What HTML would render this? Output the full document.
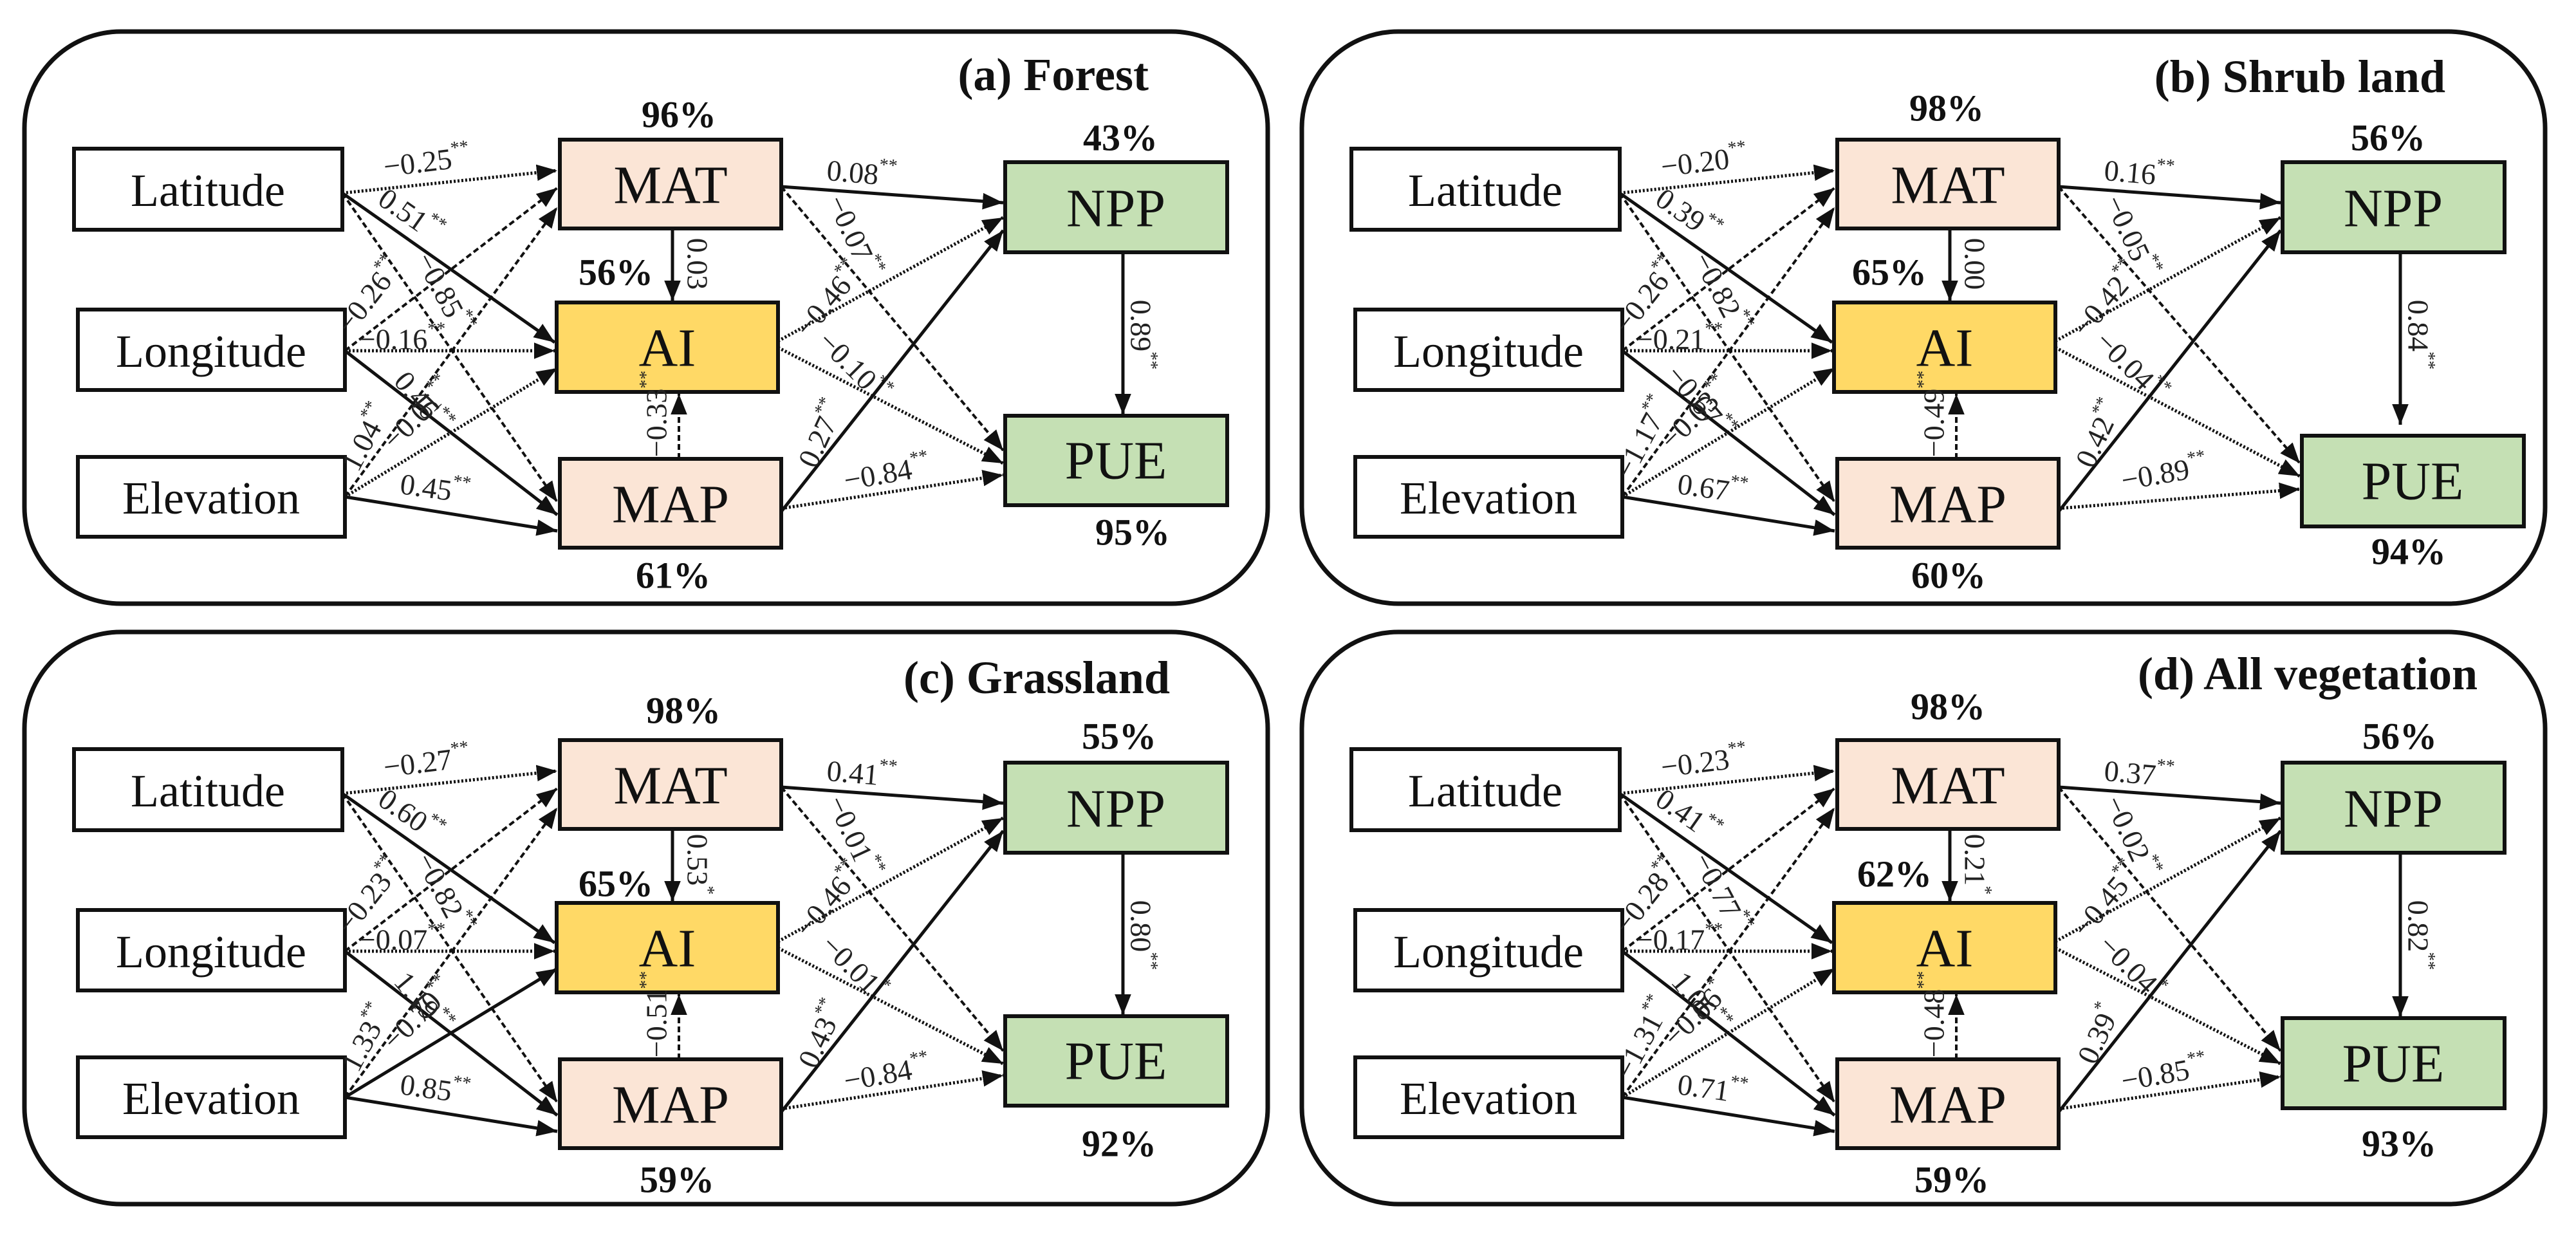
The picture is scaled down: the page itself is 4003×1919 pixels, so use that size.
<!DOCTYPE html>
<html><head><meta charset="utf-8"><style>
html,body{margin:0;padding:0;background:#fff;}
svg{display:block;font-family:"Liberation Serif","DejaVu Serif",serif;}
svg text{font-family:"Liberation Serif","DejaVu Serif",serif;}
.nt{font-size:72px;text-anchor:middle;dominant-baseline:central;fill:#111;}
.big{font-size:84px;}
.pc{font-weight:bold;font-size:58px;text-anchor:middle;dominant-baseline:central;fill:#111;}
.tt{font-weight:bold;font-size:72px;text-anchor:end;fill:#111;}
.lb{font-size:46px;text-anchor:middle;dominant-baseline:central;fill:#222;}
.lb tspan{font-size:28px;}
.box{stroke:#111;stroke-width:6;}
.so{stroke:#111;stroke-width:5;fill:none;marker-end:url(#ah);}
.dt{stroke:#111;stroke-width:5;stroke-dasharray:3 3;fill:none;marker-end:url(#ah);}
.ds{stroke:#111;stroke-width:4;stroke-dasharray:9 5;fill:none;marker-end:url(#ah);}
</style></head><body>
<svg width="4003" height="1919" viewBox="0 0 4003 1919" xmlns="http://www.w3.org/2000/svg" font-family="Liberation Serif, DejaVu Serif, serif">
<defs>
<marker id="ah" viewBox="0 0 10 8" refX="10" refY="4" markerWidth="32" markerHeight="26" markerUnits="userSpaceOnUse" orient="auto"><path d="M0,0 L10,4 L0,8 z" fill="#111"/></marker>
<g id="base">
<rect x="38" y="49" width="1932" height="889" rx="150" ry="150" fill="none" stroke="#111" stroke-width="7"/>
<rect class="box" x="115" y="231" width="417" height="126" fill="#fff"/>
<rect class="box" x="121" y="481" width="415" height="125" fill="#fff"/>
<rect class="box" x="121" y="710" width="415" height="124" fill="#fff"/>
<rect class="box" x="870" y="217" width="344" height="138" fill="#FBE5D6"/>
<rect class="box" x="865" y="470" width="344" height="139" fill="#FFD966"/>
<rect class="box" x="870" y="713" width="344" height="138" fill="#FBE5D6"/>
<rect class="box" x="1562" y="252" width="345" height="140" fill="#C5E0B4"/>
<text class="nt" x="323" y="296">Latitude</text>
<text class="nt" x="328" y="546">Longitude</text>
<text class="nt" x="328" y="774">Elevation</text>
<text class="nt big" x="1042" y="288">MAT</text>
<text class="nt big" x="1037" y="541">AI</text>
<text class="nt big" x="1042" y="784">MAP</text>
<text class="nt big" x="1734" y="324">NPP</text>
<line class="dt" x1="532" y1="300" x2="866" y2="265"/>
<line class="so" x1="532" y1="300" x2="862" y2="532"/>
<line class="ds" x1="532" y1="300" x2="866" y2="780"/>
<line class="ds" x1="536" y1="545" x2="866" y2="292"/>
<line class="dt" x1="536" y1="545" x2="862" y2="545"/>
<line class="so" x1="536" y1="545" x2="866" y2="800"/>
<line class="ds" x1="536" y1="772" x2="866" y2="322"/>
<line class="so" x1="536" y1="772" x2="866" y2="825"/>
<line class="so" x1="1045" y1="355" x2="1045" y2="468"/>
<line class="ds" x1="1055" y1="713" x2="1055" y2="612"/>
<line class="so" x1="1214" y1="290" x2="1559" y2="315"/>
<line class="dt" x1="1209" y1="530" x2="1559" y2="338"/>
<line class="so" x1="1214" y1="795" x2="1559" y2="358"/>
</g>
<g id="pue0">
<rect class="box" x="1562" y="646" width="345" height="139" fill="#C5E0B4"/>
<text class="nt big" x="1734" y="716">PUE</text>
<line class="ds" x1="1214" y1="290" x2="1559" y2="700"/>
<line class="dt" x1="1209" y1="540" x2="1559" y2="720"/>
<line class="dt" x1="1214" y1="790" x2="1559" y2="738"/>
<line class="so" x1="1745" y1="392" x2="1745" y2="644"/>
</g>
</defs>

<!-- (a) -->
<g>
<use href="#base"/><use href="#pue0"/>
<line class="dt" x1="536" y1="772" x2="866" y2="572"/>
<text class="tt" x="1785" y="140">(a) Forest</text>
<text class="pc" x="1055" y="178">96%</text><text class="pc" x="1741" y="214">43%</text>
<text class="pc" x="957" y="423">56%</text><text class="pc" x="1046" y="894">61%</text><text class="pc" x="1760" y="827">95%</text>
<text class="lb" x="663" y="251" transform="rotate(-7 663 251)">−0.25<tspan dy="-16">**</tspan></text>
<text class="lb" x="638" y="334" transform="rotate(35 638 334)">0.51<tspan dy="-16">**</tspan></text>
<text class="lb" x="690" y="455" transform="rotate(62 690 455)">−0.85<tspan dy="-16">**</tspan></text>
<text class="lb" x="574" y="459" transform="rotate(-52 574 459)">−0.26<tspan dy="-16">**</tspan></text>
<text class="lb" x="625" y="527">−0.16<tspan dy="-16">**</tspan></text>
<text class="lb" x="657" y="625" transform="rotate(50 657 625)">0.46<tspan dy="-16">**</tspan></text>
<text class="lb" x="568" y="680" transform="rotate(-62 568 680)">1.04<tspan dy="-16">**</tspan></text>
<text class="lb" x="650" y="643" transform="rotate(-45 650 643)">−0.01<tspan dy="-16">**</tspan></text>
<text class="lb" x="676" y="759" transform="rotate(8 676 759)">0.45<tspan dy="-16">**</tspan></text>
<text class="lb" x="1084" y="410" transform="rotate(90 1084 410)">0.03</text>
<text class="lb" x="1020" y="643" transform="rotate(-90 1020 643)">−0.33<tspan dy="-16">**</tspan></text>
<text class="lb" x="1339" y="269" transform="rotate(5 1339 269)">0.08<tspan dy="-16">**</tspan></text>
<text class="lb" x="1327" y="367" transform="rotate(65 1327 367)">−0.07<tspan dy="-16">**</tspan></text>
<text class="lb" x="1288" y="465" transform="rotate(-50 1288 465)">−0.46<tspan dy="-16">**</tspan></text>
<text class="lb" x="1327" y="570" transform="rotate(45 1327 570)">−0.10<tspan dy="-16">**</tspan></text>
<text class="lb" x="1276" y="674" transform="rotate(-65 1276 674)">0.27<tspan dy="-16">**</tspan></text>
<text class="lb" x="1378" y="735" transform="rotate(-10 1378 735)">−0.84<tspan dy="-16">**</tspan></text>
<text class="lb" x="1773" y="520" transform="rotate(90 1773 520)">0.89<tspan dy="-16">**</tspan></text>
</g>

<!-- (b) -->
<g transform="translate(1985,0)">
<use href="#base"/>
<line class="dt" x1="536" y1="772" x2="866" y2="572"/>
<rect class="box" x="1592" y="677" width="345" height="141" fill="#C5E0B4"/>
<text class="nt big" x="1764" y="748">PUE</text>
<line class="ds" x1="1214" y1="290" x2="1589" y2="720"/>
<line class="dt" x1="1209" y1="540" x2="1589" y2="740"/>
<line class="dt" x1="1214" y1="790" x2="1589" y2="760"/>
<line class="so" x1="1745" y1="392" x2="1745" y2="660"/>
<text class="tt" x="1815" y="143">(b) Shrub land</text>
<text class="pc" x="1040" y="168">98%</text><text class="pc" x="1726" y="214">56%</text>
<text class="pc" x="951" y="423">65%</text><text class="pc" x="1043" y="894">60%</text><text class="pc" x="1758" y="857">94%</text>
<text class="lb" x="663" y="251" transform="rotate(-7 663 251)">−0.20<tspan dy="-16">**</tspan></text>
<text class="lb" x="638" y="334" transform="rotate(35 638 334)">0.39<tspan dy="-16">**</tspan></text>
<text class="lb" x="690" y="455" transform="rotate(62 690 455)">−0.82<tspan dy="-16">**</tspan></text>
<text class="lb" x="574" y="459" transform="rotate(-52 574 459)">−0.26<tspan dy="-16">**</tspan></text>
<text class="lb" x="625" y="527">−0.21<tspan dy="-16">**</tspan></text>
<text class="lb" x="657" y="625" transform="rotate(50 657 625)">−0.67<tspan dy="-16">**</tspan></text>
<text class="lb" x="568" y="680" transform="rotate(-62 568 680)">−1.17<tspan dy="-16">**</tspan></text>
<text class="lb" x="650" y="643" transform="rotate(-45 650 643)">−0.03<tspan dy="-16">**</tspan></text>
<text class="lb" x="676" y="759" transform="rotate(8 676 759)">0.67<tspan dy="-16">**</tspan></text>
<text class="lb" x="1084" y="410" transform="rotate(90 1084 410)">0.00</text>
<text class="lb" x="1020" y="643" transform="rotate(-90 1020 643)">−0.49<tspan dy="-16">**</tspan></text>
<text class="lb" x="1339" y="269" transform="rotate(5 1339 269)">0.16<tspan dy="-16">**</tspan></text>
<text class="lb" x="1327" y="367" transform="rotate(65 1327 367)">−0.05<tspan dy="-16">**</tspan></text>
<text class="lb" x="1288" y="465" transform="rotate(-50 1288 465)">−0.42<tspan dy="-16">**</tspan></text>
<text class="lb" x="1327" y="570" transform="rotate(45 1327 570)">−0.04<tspan dy="-16">**</tspan></text>
<text class="lb" x="1276" y="674" transform="rotate(-65 1276 674)">0.42<tspan dy="-16">**</tspan></text>
<text class="lb" x="1378" y="735" transform="rotate(-10 1378 735)">−0.89<tspan dy="-16">**</tspan></text>
<text class="lb" x="1773" y="520" transform="rotate(90 1773 520)">0.84<tspan dy="-16">**</tspan></text>
</g>

<!-- (c) -->
<g transform="translate(0,933)">
<use href="#base"/><use href="#pue0"/>
<line class="so" x1="536" y1="772" x2="866" y2="572"/>
<text class="tt" x="1818" y="144">(c) Grassland</text>
<text class="pc" x="1062" y="171">98%</text><text class="pc" x="1739" y="211">55%</text>
<text class="pc" x="957" y="440">65%</text><text class="pc" x="1052" y="900">59%</text><text class="pc" x="1739" y="844">92%</text>
<text class="lb" x="663" y="251" transform="rotate(-7 663 251)">−0.27<tspan dy="-16">**</tspan></text>
<text class="lb" x="638" y="334" transform="rotate(35 638 334)">0.60<tspan dy="-16">**</tspan></text>
<text class="lb" x="690" y="455" transform="rotate(62 690 455)">−0.82<tspan dy="-16">**</tspan></text>
<text class="lb" x="574" y="459" transform="rotate(-52 574 459)">−0.23<tspan dy="-16">**</tspan></text>
<text class="lb" x="625" y="527">−0.07<tspan dy="-16">**</tspan></text>
<text class="lb" x="657" y="625" transform="rotate(50 657 625)">1.19<tspan dy="-16">**</tspan></text>
<text class="lb" x="568" y="680" transform="rotate(-62 568 680)">1.33<tspan dy="-16">**</tspan></text>
<text class="lb" x="650" y="643" transform="rotate(-45 650 643)">−0.70<tspan dy="-16">**</tspan></text>
<text class="lb" x="676" y="759" transform="rotate(8 676 759)">0.85<tspan dy="-16">**</tspan></text>
<text class="lb" x="1084" y="410" transform="rotate(90 1084 410)">0.53<tspan dy="-16">*</tspan></text>
<text class="lb" x="1020" y="643" transform="rotate(-90 1020 643)">−0.51<tspan dy="-16">**</tspan></text>
<text class="lb" x="1339" y="269" transform="rotate(5 1339 269)">0.41<tspan dy="-16">**</tspan></text>
<text class="lb" x="1327" y="367" transform="rotate(65 1327 367)">−0.01<tspan dy="-16">**</tspan></text>
<text class="lb" x="1288" y="465" transform="rotate(-50 1288 465)">−0.46<tspan dy="-16">**</tspan></text>
<text class="lb" x="1327" y="570" transform="rotate(45 1327 570)">−0.01<tspan dy="-16">*</tspan></text>
<text class="lb" x="1276" y="674" transform="rotate(-65 1276 674)">0.43<tspan dy="-16">**</tspan></text>
<text class="lb" x="1378" y="735" transform="rotate(-10 1378 735)">−0.84<tspan dy="-16">**</tspan></text>
<text class="lb" x="1773" y="520" transform="rotate(90 1773 520)">0.80<tspan dy="-16">**</tspan></text>
</g>

<!-- (d) -->
<g transform="translate(1985,933)">
<use href="#base"/>
<line class="dt" x1="536" y1="772" x2="866" y2="572"/>
<rect class="box" x="1562" y="649" width="345" height="140" fill="#C5E0B4"/>
<text class="nt big" x="1734" y="720">PUE</text>
<line class="ds" x1="1214" y1="290" x2="1559" y2="700"/>
<line class="dt" x1="1209" y1="540" x2="1559" y2="720"/>
<line class="dt" x1="1214" y1="790" x2="1559" y2="740"/>
<line class="so" x1="1745" y1="392" x2="1745" y2="647"/>
<text class="tt" x="1865" y="138">(d) All vegetation</text>
<text class="pc" x="1042" y="165">98%</text><text class="pc" x="1744" y="211">56%</text>
<text class="pc" x="959" y="425">62%</text><text class="pc" x="1048" y="900">59%</text><text class="pc" x="1743" y="844">93%</text>
<text class="lb" x="663" y="251" transform="rotate(-7 663 251)">−0.23<tspan dy="-16">**</tspan></text>
<text class="lb" x="638" y="334" transform="rotate(35 638 334)">0.41<tspan dy="-16">**</tspan></text>
<text class="lb" x="690" y="455" transform="rotate(62 690 455)">−0.77<tspan dy="-16">**</tspan></text>
<text class="lb" x="574" y="459" transform="rotate(-52 574 459)">−0.28<tspan dy="-16">**</tspan></text>
<text class="lb" x="625" y="527">−0.17<tspan dy="-16">**</tspan></text>
<text class="lb" x="657" y="625" transform="rotate(50 657 625)">1.06<tspan dy="-16">**</tspan></text>
<text class="lb" x="568" y="680" transform="rotate(-62 568 680)">−1.31<tspan dy="-16">**</tspan></text>
<text class="lb" x="650" y="643" transform="rotate(-45 650 643)">−0.06<tspan dy="-16">*</tspan></text>
<text class="lb" x="676" y="759" transform="rotate(8 676 759)">0.71<tspan dy="-16">**</tspan></text>
<text class="lb" x="1084" y="410" transform="rotate(90 1084 410)">0.21<tspan dy="-16">*</tspan></text>
<text class="lb" x="1020" y="643" transform="rotate(-90 1020 643)">−0.48<tspan dy="-16">**</tspan></text>
<text class="lb" x="1339" y="269" transform="rotate(5 1339 269)">0.37<tspan dy="-16">**</tspan></text>
<text class="lb" x="1327" y="367" transform="rotate(65 1327 367)">−0.02<tspan dy="-16">**</tspan></text>
<text class="lb" x="1288" y="465" transform="rotate(-50 1288 465)">−0.45<tspan dy="-16">**</tspan></text>
<text class="lb" x="1327" y="570" transform="rotate(45 1327 570)">−0.04<tspan dy="-16">*</tspan></text>
<text class="lb" x="1276" y="674" transform="rotate(-65 1276 674)">0.39<tspan dy="-16">*</tspan></text>
<text class="lb" x="1378" y="735" transform="rotate(-10 1378 735)">−0.85<tspan dy="-16">**</tspan></text>
<text class="lb" x="1773" y="520" transform="rotate(90 1773 520)">0.82<tspan dy="-16">**</tspan></text>
</g>
</svg>
</body></html>
